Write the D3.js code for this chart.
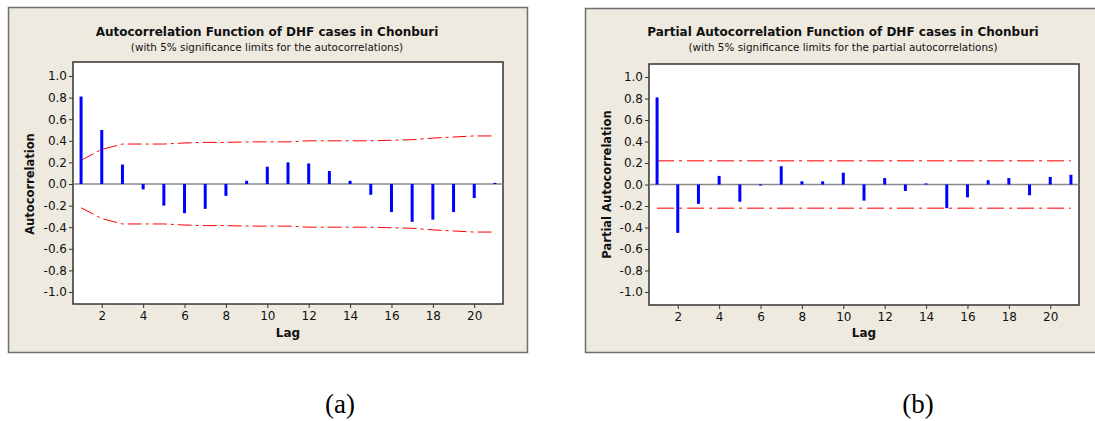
<!DOCTYPE html>
<html>
<head>
<meta charset="utf-8">
<script src="https://cdn.jsdelivr.net/npm/d3@7"></script>
<style>
  body { margin: 0; background: #fff; }
  svg text { font-family: "DejaVu Sans", Verdana, sans-serif; }
</style>
</head>
<body>
<div id="chart"></div>
<script>
// lags 1..21
const lags = d3.range(1, 22);

// ACF values
const acfValues = [0.81, 0.50, 0.18, -0.05, -0.20, -0.27, -0.23, -0.11, 0.03, 0.16,
  0.20, 0.19, 0.12, 0.03, -0.10, -0.26, -0.35, -0.33, -0.26, -0.13, 0.01];
// upper 5% limit for the ACF (lower is the negative)
const acfLimits = [0.22, 0.32, 0.37, 0.37, 0.37, 0.38, 0.385, 0.385, 0.39, 0.39,
  0.39, 0.40, 0.40, 0.40, 0.40, 0.405, 0.41, 0.425, 0.435, 0.445, 0.445];

// PACF values
const pacfValues = [0.81, -0.45, -0.18, 0.08, -0.16, -0.01, 0.17, 0.03, 0.03, 0.11,
  -0.15, 0.06, -0.06, 0.01, -0.22, -0.12, 0.04, 0.06, -0.10, 0.07, 0.09];
const pacfLimit = 0.22;

const yTicks = [1.0, 0.8, 0.6, 0.4, 0.2, 0.0, -0.2, -0.4, -0.6, -0.8, -1.0];
const xTicks = [2, 4, 6, 8, 10, 12, 14, 16, 18, 20];

const svg = d3.select("#chart").append("svg")
    .attr("width", 1095)
    .attr("height", 421);

function drawPanel(opts) {
    const g = svg.append("g");

    // beige frame
    g.append("rect")
        .attr("x", opts.box[0] + 0.5).attr("y", opts.box[1] + 0.5)
        .attr("width", opts.box[2]).attr("height", opts.box[3])
        .attr("fill", "#EEEAE0")
        .attr("stroke", "#6e6e6e")
        .attr("stroke-width", 1.5);

    const p = opts.plot; // left, top, right, bottom
    g.append("rect")
        .attr("x", p.left).attr("y", p.top)
        .attr("width", p.right - p.left).attr("height", p.bottom - p.top)
        .attr("fill", "#fff")
        .attr("stroke", "#333")
        .attr("stroke-width", 1.5);

    const x = d3.scaleLinear().domain([0.61, 21.39]).range([p.left, p.right]);
    const y = d3.scaleLinear().domain([-1, 1]).range([p.yMin, p.yMax]);

    // y axis
    const ya = g.append("g")
        .attr("transform", `translate(${p.left},0)`)
        .call(d3.axisLeft(y).tickValues(yTicks).tickSize(4).tickPadding(2));
    ya.select(".domain").remove();
    ya.selectAll("line").attr("stroke", "#333");
    ya.selectAll("text").attr("font-size", 12).attr("fill", "#111")
        .text(d => d3.format(".1f")(d).replace("−", "-"));

    // x axis
    const xa = g.append("g")
        .attr("transform", `translate(0,${p.bottom})`)
        .call(d3.axisBottom(x).tickValues(xTicks).tickSize(4).tickPadding(3));
    xa.select(".domain").remove();
    xa.selectAll("line").attr("stroke", "#333");
    xa.selectAll("text").attr("font-size", 12).attr("fill", "#111");

    // zero line
    g.append("line")
        .attr("x1", p.left).attr("x2", p.right)
        .attr("y1", y(0)).attr("y2", y(0))
        .attr("stroke", "#8a8a8a")
        .attr("stroke-width", 1.5);

    // significance limits
    const line = d3.line().x(d => x(d[0])).y(d => y(d[1]));
    [1, -1].forEach(s => {
        g.append("path")
            .datum(lags.map((l, i) => [l, s * opts.limits[i]]))
            .attr("d", line)
            .attr("fill", "none")
            .attr("stroke", opts.limitColor)
            .attr("stroke-width", opts.limitWidth)
            .attr("stroke-dasharray", opts.dash);
    });

    // spikes
    g.selectAll(".spike")
        .data(lags)
        .join("line")
        .attr("class", "spike")
        .attr("x1", d => x(d)).attr("x2", d => x(d))
        .attr("y1", y(0))
        .attr("y2", (d, i) => y(opts.values[i]))
        .attr("stroke", "#0000ff")
        .attr("stroke-width", 3);

    // titles
    g.append("text")
        .attr("x", opts.titleX).attr("y", 36)
        .attr("text-anchor", "middle")
        .attr("font-size", 12)
        .attr("font-weight", "bold")
        .attr("fill", "#111")
        .text(opts.title);
    g.append("text")
        .attr("x", opts.titleX).attr("y", 51)
        .attr("text-anchor", "middle")
        .attr("font-size", 10.4)
        .attr("fill", "#111")
        .text(opts.subtitle);

    // axis labels
    g.append("text")
        .attr("x", (p.left + p.right) / 2).attr("y", 337)
        .attr("text-anchor", "middle")
        .attr("font-size", 12)
        .attr("font-weight", "bold")
        .attr("fill", "#111")
        .text("Lag");
    g.append("text")
        .attr("transform", `translate(${opts.yLabelX},${y(0)}) rotate(-90)`)
        .attr("text-anchor", "middle")
        .attr("font-size", 11.5)
        .attr("font-weight", "bold")
        .attr("fill", "#111")
        .text(opts.yLabel);

    // caption
    svg.append("text")
        .attr("x", opts.captionX).attr("y", 413)
        .attr("text-anchor", "middle")
        .style("font-family", "'Liberation Serif', 'Times New Roman', serif")
        .attr("font-size", 27)
        .attr("fill", "#000")
        .text(opts.caption);
}

drawPanel({
    box: [8, 7, 519, 345],
    plot: { left: 73, top: 62, right: 503, bottom: 304, yMax: 76, yMin: 292 },
    values: acfValues,
    limits: acfLimits,
    limitColor: "#ff0000",
    limitWidth: 1,
    dash: "14,4,3,4",
    title: "Autocorrelation Function of DHF cases in Chonburi",
    subtitle: "(with 5% significance limits for the autocorrelations)",
    titleX: 267,
    yLabel: "Autocorrelation",
    yLabelX: 34,
    caption: "(a)",
    captionX: 340
});

drawPanel({
    box: [585, 8, 520, 344],
    plot: { left: 649, top: 64, right: 1079, bottom: 305, yMax: 77, yMin: 292 },
    values: pacfValues,
    limits: lags.map(() => pacfLimit),
    limitColor: "#ff5050",
    limitWidth: 1.5,
    dash: "17,5,3,5",
    title: "Partial Autocorrelation Function of DHF cases in Chonburi",
    subtitle: "(with 5% significance limits for the partial autocorrelations)",
    titleX: 843,
    yLabel: "Partial Autocorrelation",
    yLabelX: 611,
    caption: "(b)",
    captionX: 918
});
</script>
</body>
</html>
